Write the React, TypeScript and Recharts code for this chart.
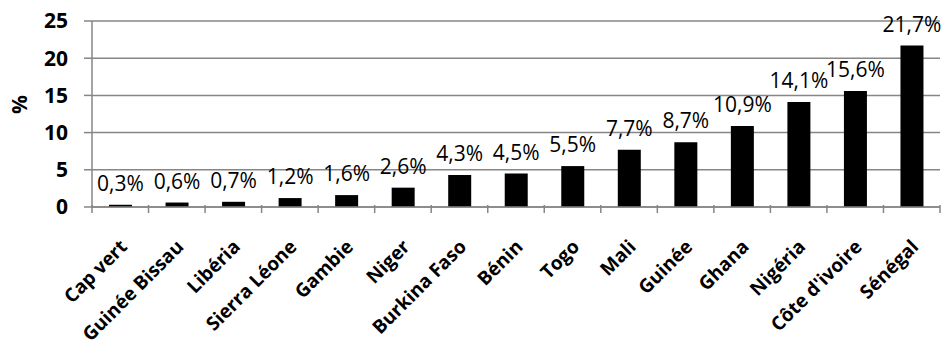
import { Bar, BarChart, CartesianGrid, LabelList, XAxis, YAxis } from "recharts";

if (typeof document !== "undefined") document.body.style.margin = "0";

const countries = [
  "Cap vert",
  "Guinée Bissau",
  "Libéria",
  "Sierra Léone",
  "Gambie",
  "Niger",
  "Burkina Faso",
  "Bénin",
  "Togo",
  "Mali",
  "Guinée",
  "Ghana",
  "Nigéria",
  "Côte d'ivoire",
  "Sénégal",
];
const shares = [0.3, 0.6, 0.7, 1.2, 1.6, 2.6, 4.3, 4.5, 5.5, 7.7, 8.7, 10.9, 14.1, 15.6, 21.7];
const yTicks = [0, 5, 10, 15, 20, 25];

const data = countries.map((name, i) => ({ name, value: shares[i] }));

const AXIS_GREY = "#868686";
const FONT = "'Open Sans', sans-serif";

// plot area width / category count, for the Excel-style ticks between bars
const PLOT_LEFT = 92;
const PLOT_RIGHT = 940;
const BAND = (PLOT_RIGHT - PLOT_LEFT) / countries.length;

function CountryTick(props: any) {
  const { x, y, payload, index } = props;
  const left = x - BAND / 2;
  const right = x + BAND / 2;
  const ax = x + 8;
  const ay = y + 35;
  return (
    <g>
      <line x1={left} y1={y - 8} x2={left} y2={y} stroke={AXIS_GREY} strokeWidth={1.5} />
      {index === countries.length - 1 && (
        <line x1={right} y1={y - 8} x2={right} y2={y} stroke={AXIS_GREY} strokeWidth={1.5} />
      )}
      <text
        x={ax}
        y={ay}
        textAnchor="end"
        transform={`rotate(-45, ${ax}, ${ay})`}
        fontFamily={FONT}
        fontWeight={700}
        fontSize={19}
        fill="#000"
      >
        {payload.value}
      </text>
    </g>
  );
}

export default function App() {
  return (
    <BarChart
      width={952}
      height={347}
      data={data}
      margin={{ top: 21, right: 12, left: 30, bottom: 0 }}
      barCategoryGap={17}
    >
      <CartesianGrid vertical={false} stroke={AXIS_GREY} strokeWidth={1.5} />
      <XAxis
        dataKey="name"
        interval={0}
        height={140}
        axisLine={{ stroke: AXIS_GREY, strokeWidth: 1.5 }}
        tickLine={false}
        tickMargin={0}
        tick={<CountryTick />}
      />
      <YAxis
        domain={[0, 25]}
        ticks={yTicks}
        width={62}
        axisLine={{ stroke: AXIS_GREY, strokeWidth: 1.5 }}
        tickLine={{ stroke: AXIS_GREY, strokeWidth: 1.5 }}
        tickSize={8}
        tickMargin={16}
        tick={{ fill: "#000", fontFamily: FONT, fontWeight: 700, fontSize: 21 }}
        label={{
          value: "%",
          angle: -90,
          position: "insideLeft",
          offset: -10,
          style: { fill: "#000", fontFamily: FONT, fontWeight: 700, fontSize: 21 },
        }}
      />
      <Bar dataKey="value" fill="#000" isAnimationActive={false}>
        <LabelList
          dataKey="value"
          position="top"
          offset={14}
          formatter={(v: any) => `${String(v).replace(".", ",")}%`}
          style={{ fill: "#000", fontFamily: FONT, fontSize: 21 }}
        />
      </Bar>
    </BarChart>
  );
}
